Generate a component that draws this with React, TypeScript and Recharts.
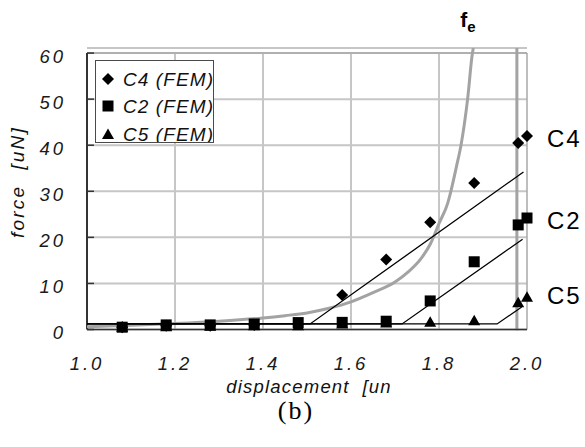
import React from 'react';
import {
  ComposedChart,
  Line,
  Scatter,
  XAxis,
  YAxis,
  CartesianGrid,
  ReferenceLine,
  ReferenceDot,
  Legend,
  Label,
} from 'recharts';

// ---- data ----
const xPositions = [1.08, 1.18, 1.28, 1.38, 1.48, 1.58, 1.68, 1.78, 1.88, 1.98, 2.0];
const c4Values = [0.5, 0.8, 0.8, 1.0, 1.2, 7.5, 15.2, 23.3, 31.8, 40.5, 42.0];
const c2Values = [0.5, 1.0, 1.0, 1.2, 1.5, 1.55, 1.8, 6.2, 14.7, 22.7, 24.2];
const c5Values = [0.5, 0.6, 0.7, 0.8, 0.8, 1.2, 1.4, 1.6, 1.9, 5.8, 7.0];

const feX = [1.0, 1.1, 1.2, 1.3, 1.4, 1.45, 1.5, 1.55, 1.6, 1.65, 1.7, 1.73, 1.76, 1.78, 1.8, 1.82, 1.827, 1.84, 1.85, 1.865, 1.876, 1.878];
const feY = [0.6, 0.9, 1.3, 1.8, 2.5, 3.0, 3.6, 4.6, 6.0, 8.0, 10.3, 12.5, 15.5, 18.5, 23.0, 27.5, 30.0, 35.5, 40.0, 50.0, 60.0, 61.1];

const c4FitX = [1.0, 1.507, 1.992];
const c4FitY = [1.2, 1.2, 34.2];
const c2FitX = [1.0, 1.716, 1.99];
const c2FitY = [1.2, 1.2, 19.6];
const c5FitX = [1.0, 1.932, 1.988];
const c5FitY = [1.2, 1.2, 4.9];

const pullInX = 1.977;

const xTicks = [1.0, 1.2, 1.4, 1.6, 1.8, 2.0];
const yTicks = [0, 10, 20, 30, 40, 50, 60];
const xDomain = [1.0, 2.0];
const yDomain = [0, 61.1];
const yBottomExtent = -0.15;

const seriesNames = ['C4 (FEM)', 'C2 (FEM)', 'C5 (FEM)'];
const endLabels = ['C4', 'C2', 'C5'];
const feLabel = 'f';
const feSub = 'e';
const xLabel = 'displacement  [un';
const yLabel = 'force  [uN]';
const caption = '(b)';

const zip = (xs: number[], ys: number[]) => xs.map((x, i) => ({ x, y: ys[i] }));
const c4Data = zip(xPositions, c4Values);
const c2Data = zip(xPositions, c2Values);
const c5Data = zip(xPositions, c5Values);
const feData = zip(feX, feY);
const c4Fit = zip(c4FitX, c4FitY);
const c2Fit = zip(c2FitX, c2FitY);
const c5Fit = zip(c5FitX, c5FitY);

const SANS = 'Arial, "Liberation Sans", sans-serif';
const GRID = '#c6c6c6';
const BORDER = '#a8a8a8';
const AXIS = '#333';
const FE_GRAY = '#a3a3a3';

// ---- marker shapes ----
const DiamondShape = (p: any) => {
  const { cx, cy } = p;
  return <polygon points={`${cx},${cy - 6} ${cx + 6},${cy} ${cx},${cy + 6} ${cx - 6},${cy}`} fill="#000" />;
};
const SquareShape = (p: any) => {
  const { cx, cy } = p;
  return <rect x={cx - 5.5} y={cy - 5.5} width={11} height={11} fill="#000" />;
};
const TriangleShape = (p: any) => {
  const { cx, cy } = p;
  return <polygon points={`${cx},${cy - 6} ${cx + 6},${cy + 4.5} ${cx - 6},${cy + 4.5}`} fill="#000" />;
};

const legendIcons = [
  <polygon key="d" points="6,0 12,6 6,12 0,6" fill="#000" />,
  <rect key="s" x={0.5} y={0.5} width={11} height={11} fill="#000" />,
  <polygon key="t" points="6,0.5 12,11 0,11" fill="#000" />,
];

const renderLegend = () => (
  <div
    style={{
      width: 117,
      height: 81,
      border: '1px solid #4a4a4a',
      background: '#fff',
      overflow: 'hidden',
      position: 'relative',
      fontFamily: SANS,
      fontStyle: 'italic',
      fontSize: 19,
      letterSpacing: 1.1,
      color: '#111',
    }}
  >
    {seriesNames.map((name, i) => (
      <div key={name} style={{ position: 'absolute', left: 0, top: 4.5 + i * 27.5, height: 27, width: 117 }}>
        <svg width={12} height={12} style={{ position: 'absolute', left: 6, top: 7 }}>
          {legendIcons[i]}
        </svg>
        <span style={{ position: 'absolute', left: 27, top: 0, lineHeight: '27px', whiteSpace: 'nowrap' }}>{name}</span>
      </div>
    ))}
  </div>
);

const XTick = (props: any) => {
  const { x, y, payload } = props;
  return (
    <text x={x} y={y} dy="0.71em" textAnchor="middle" fontFamily={SANS} fontStyle="italic" fontSize={18.5} letterSpacing={3} fill="#1a1a1a">
      {Number(payload.value).toFixed(1)}
    </text>
  );
};

const YTick = (props: any) => {
  const { x, y, payload } = props;
  return (
    <g>
      <line x1={x + 21} x2={x + 28} y1={y} y2={y} stroke={AXIS} strokeWidth={1.5} />
      <text x={x} y={y + 3} dy="0.35em" textAnchor="end" fontFamily={SANS} fontStyle="italic" fontSize={18.5} letterSpacing={3} fill="#1a1a1a">
        {payload.value}
      </text>
    </g>
  );
};

const makeEndLabel = (text: string, dy: number) => (props: any) => {
  const vb = props.viewBox || {};
  const x = (vb.x || 0) + (vb.width || 0) + 20;
  const y = (vb.y || 0) + (vb.height || 0) / 2 + dy;
  return (
    <text x={x} y={y} dy="0.36em" fontFamily={SANS} fontSize={24} letterSpacing={2} fill="#000">
      {text}
    </text>
  );
};

const FeLabel = (props: any) => {
  const vb = props.viewBox || {};
  const x = (vb.x || 0) - 13;
  const y = (vb.y || 0) - 21;
  return (
    <text x={x} y={y} fontFamily={SANS} fontWeight="bold" fill="#000">
      <tspan fontSize={21}>{feLabel}</tspan>
      <tspan fontSize={15} dy={5}>{feSub}</tspan>
    </text>
  );
};

const XLabelContent = (props: any) => {
  const vb = props.viewBox || {};
  const cx = (vb.x || 0) + (vb.width || 0) / 2 + 2;
  return (
    <text x={cx} y={393} textAnchor="middle" fontFamily={SANS} fontStyle="italic" fontSize={18.5} letterSpacing={1.2} fill="#111" style={{ whiteSpace: 'pre' }}>
      {xLabel}
    </text>
  );
};

const YLabelContent = () => (
  <text x={17} y={182} transform="rotate(-90 17 182)" textAnchor="middle" dy="0.35em" fontFamily={SANS} fontStyle="italic" fontSize={19} letterSpacing={2.2} fill="#111" style={{ whiteSpace: 'pre' }}>
    {yLabel}
  </text>
);

export default function App() {
  return (
    <div style={{ position: 'absolute', left: 0, top: 0, width: 585, height: 447, background: '#fff' }}>
      <ComposedChart width={585} height={447} margin={{ top: 48, right: 58, bottom: 87.5, left: 27 }}>
        <CartesianGrid horizontal={true} vertical={false} stroke={GRID} strokeWidth={2} />
        <XAxis
          type="number"
          dataKey="x"
          domain={xDomain}
          ticks={xTicks}
          interval={0}
          height={30}
          tickSize={0}
          tickMargin={27}
          tickLine={false}
          axisLine={{ stroke: AXIS, strokeWidth: 1.5 }}
          tick={<XTick />}
        >
          <Label content={<XLabelContent />} />
        </XAxis>
        <YAxis
          type="number"
          dataKey="y"
          domain={yDomain}
          ticks={yTicks}
          interval={0}
          width={60}
          tickSize={0}
          tickMargin={21}
          tickLine={false}
          axisLine={false}
          tick={<YTick />}
        >
          <Label content={<YLabelContent />} />
        </YAxis>

        {xTicks.slice(1, -1).map((xv) => (
          <ReferenceLine key={'vg' + xv} segment={[{ x: xv, y: 0 }, { x: xv, y: 60 }]} stroke={GRID} strokeWidth={2} ifOverflow="visible" />
        ))}
        <ReferenceLine segment={[{ x: xDomain[0], y: 60 }, { x: xDomain[1], y: 60 }]} stroke={BORDER} strokeWidth={1.5} ifOverflow="visible" />
        <ReferenceLine segment={[{ x: xDomain[1], y: 0 }, { x: xDomain[1], y: 60 }]} stroke={BORDER} strokeWidth={1.5} ifOverflow="visible" />
        <ReferenceLine segment={[{ x: xDomain[0], y: 0 }, { x: xDomain[0], y: 60 }]} stroke={AXIS} strokeWidth={2} ifOverflow="visible" />
        <ReferenceLine
          segment={[{ x: pullInX, y: yBottomExtent }, { x: pullInX, y: yDomain[1] }]}
          stroke={FE_GRAY}
          strokeWidth={3}
          ifOverflow="visible"
        />

        <Line data={feData} dataKey="y" type="monotone" stroke={FE_GRAY} strokeWidth={3} dot={false} isAnimationActive={false} legendType="none" />
        <Line data={c4Fit} dataKey="y" type="linear" stroke="#000" strokeWidth={1.3} dot={false} isAnimationActive={false} legendType="none" />
        <Line data={c2Fit} dataKey="y" type="linear" stroke="#000" strokeWidth={1.3} dot={false} isAnimationActive={false} legendType="none" />
        <Line data={c5Fit} dataKey="y" type="linear" stroke="#000" strokeWidth={1.3} dot={false} isAnimationActive={false} legendType="none" />

        <Scatter name={seriesNames[0]} data={c4Data} dataKey="y" shape={DiamondShape} isAnimationActive={false} />
        <Scatter name={seriesNames[2]} data={c5Data} dataKey="y" shape={TriangleShape} isAnimationActive={false} />
        <Scatter name={seriesNames[1]} data={c2Data} dataKey="y" shape={SquareShape} isAnimationActive={false} />

        <ReferenceDot x={xPositions[xPositions.length - 1]} y={c4Values[c4Values.length - 1]} r={0} fill="none" stroke="none" label={makeEndLabel(endLabels[0], 2)} />
        <ReferenceDot x={xPositions[xPositions.length - 1]} y={c2Values[c2Values.length - 1]} r={0} fill="none" stroke="none" label={makeEndLabel(endLabels[1], 2)} />
        <ReferenceDot x={xPositions[xPositions.length - 1]} y={c5Values[c5Values.length - 1]} r={0} fill="none" stroke="none" label={makeEndLabel(endLabels[2], -2)} />
        <ReferenceDot x={feX[feX.length - 1]} y={feY[feY.length - 1]} r={0} fill="none" stroke="none" label={<FeLabel />} />

        <Legend
          layout="horizontal"
          verticalAlign="middle"
          align="center"
          content={renderLegend}
          wrapperStyle={{ left: 95, top: 60, width: 119, height: 83 }}
        />
      </ComposedChart>
      <div
        style={{
          position: 'absolute',
          left: 246,
          top: 398,
          width: 100,
          textAlign: 'center',
          fontFamily: '"Liberation Serif", "Times New Roman", serif',
          fontSize: 26,
          lineHeight: '26px',
          letterSpacing: 2,
          color: '#000',
        }}
      >
        {caption}
      </div>
    </div>
  );
}
